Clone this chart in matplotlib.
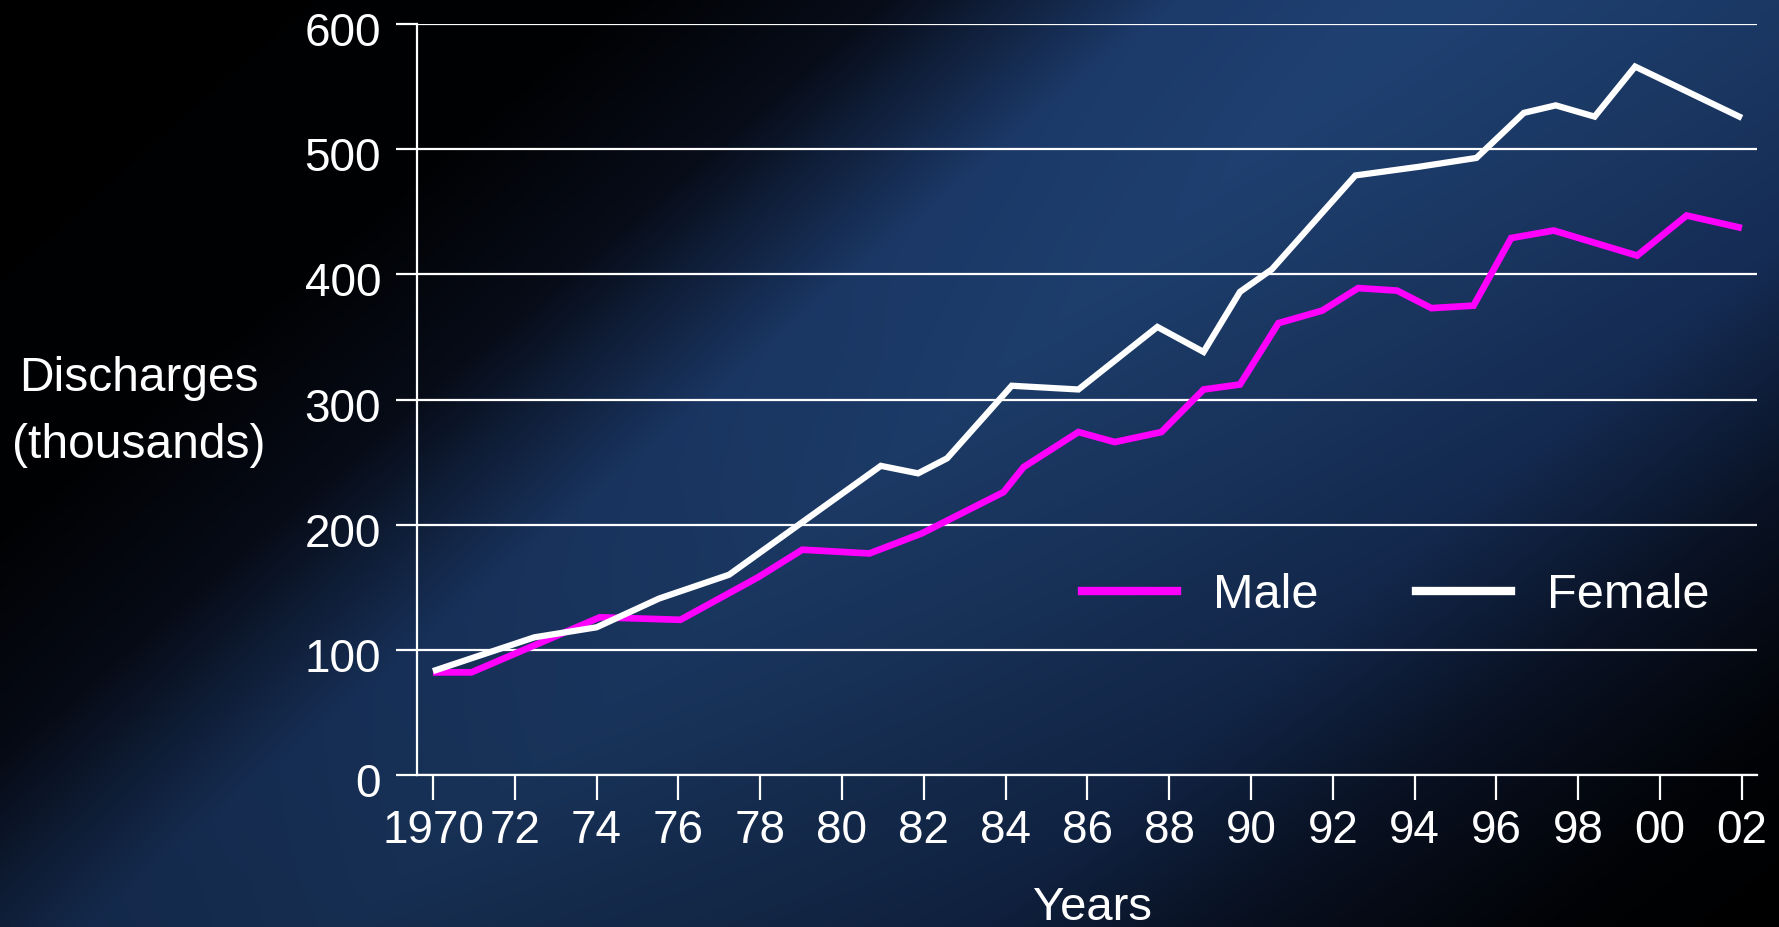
import matplotlib
matplotlib.use("Agg")
import matplotlib.pyplot as plt
import numpy as np
from matplotlib.lines import Line2D
from matplotlib.transforms import ScaledTranslation

plt.rcParams["font.family"] = ["Liberation Sans", "DejaVu Sans"]

# Hospital discharges (thousands)
female_years = [1970.0, 1972.48, 1974.0, 1975.53, 1977.24, 1980.95, 1981.86,
                1982.57, 1984.15, 1985.78, 1987.71, 1988.84, 1989.73, 1990.51,
                1992.55, 1994.12, 1995.51, 1996.67, 1997.45, 1998.4, 1999.39,
                2002.0]
female = [83, 110, 118, 141, 160, 247, 241, 253, 311, 308, 358, 338, 386, 404,
          479, 486, 493, 529, 535, 526, 566, 525]

male_years = [1970.0, 1970.94, 1974.08, 1976.05, 1977.95, 1979.03, 1980.67,
              1981.95, 1983.95, 1984.44, 1985.78, 1986.67, 1987.81, 1988.84,
              1989.73, 1990.67, 1991.74, 1992.62, 1993.57, 1994.41, 1995.44,
              1996.36, 1997.4, 1999.44, 2000.65, 2002.0]
male = [82, 82, 126, 124, 158, 180, 177, 193, 226, 246, 274, 266, 274, 308,
        312, 361, 371, 389, 387, 373, 375, 429, 435, 415, 447, 437]

tick_years = list(range(1970, 2003, 2))
tick_labels = ["1970", "72", "74", "76", "78", "80", "82", "84", "86", "88",
               "90", "92", "94", "96", "98", "00", "02"]
y_ticks = [0, 100, 200, 300, 400, 500, 600]

MAGENTA = "#ff00ff"
WHITE = "#ffffff"
FS = 33

W, H = 1779, 927
fig = plt.figure(figsize=(W / 100, H / 100), dpi=100)

# --- slide background: diagonal black -> navy -> black, darker toward the bottom ---
bg = fig.add_axes([0, 0, 1, 1], zorder=-10)
gx, gy = np.meshgrid(np.linspace(0, 1, 600), np.linspace(0, 1, 300))
s = 0.62 * gx + 0.38 * gy
stops = [0.0, 0.22, 0.31, 0.41, 0.50, 0.62, 0.72, 0.82, 0.92, 1.0]
cols = np.array([
    (0, 0, 0), (1, 2, 4), (8, 13, 26), (28, 58, 106), (31, 65, 114),
    (27, 56, 100), (22, 46, 88), (11, 21, 42), (2, 4, 8), (0, 0, 0),
]) / 255.0
shade = 1.0 - 0.3 * gy ** 1.5
img = np.dstack([np.interp(s, stops, cols[:, c]) * shade for c in range(3)])
bg.imshow(img, aspect="auto", interpolation="bilinear", extent=(0, 1, 1, 0))
bg.set_xlim(0, 1)
bg.set_ylim(1, 0)
bg.axis("off")

# --- main axes ---
left, right = 417 / W, 1757 / W
bottom, top = (H - 775) / H, (H - 24) / H
ax = fig.add_axes([left, bottom, right - left, top - bottom])
ax.patch.set_alpha(0)

ax.plot(male_years, male, color=MAGENTA, lw=4.8,
        solid_joinstyle="miter", solid_capstyle="butt", zorder=3)
ax.plot(female_years, female, color=WHITE, lw=4.5,
        solid_joinstyle="miter", solid_capstyle="butt", zorder=4)

ax.set_xlim(1969.61, 2002.37)
ax.set_ylim(0, 600)

ax.set_xticks(tick_years)
ax.set_xticklabels(tick_labels)
ax.set_yticks(y_ticks)

for side in ("top", "right"):
    ax.spines[side].set_visible(False)
for side in ("left", "bottom"):
    ax.spines[side].set_color(WHITE)
    ax.spines[side].set_linewidth(1.6)

ax.grid(axis="y", color=WHITE, lw=1.6)
ax.set_axisbelow(True)

ax.tick_params(axis="y", direction="out", length=15, width=1.6, colors=WHITE,
               labelsize=FS, pad=10.8)
ax.tick_params(axis="x", direction="out", length=18, width=1.6, colors=WHITE,
               labelsize=FS, pad=6.5)

# y labels sit a few pixels under their gridlines
shift = ScaledTranslation(0, -0.05, fig.dpi_scale_trans)
for lab in ax.get_yticklabels():
    lab.set_transform(lab.get_transform() + shift)

ax.set_xlabel("Years", color=WHITE, fontsize=34, va="center")
ax.xaxis.set_label_coords((1092 - 417) / 1340, (775 - 908) / 751)

fig.text(139 / W, 1 - 412 / H, "Discharges\n(thousands)", color=WHITE,
         fontsize=34.5, ha="center", va="center", linespacing=1.65)

handles = [
    Line2D([], [], color=MAGENTA, lw=6),
    Line2D([], [], color=WHITE, lw=6),
]
leg = ax.legend(handles, ["Male", "Female"], ncol=2, frameon=False,
                fontsize=35, labelcolor=WHITE, loc="center left",
                bbox_to_anchor=(1082 / W, 1 - 596 / H),
                bbox_transform=fig.transFigure,
                borderpad=0, borderaxespad=0, handlelength=1.95,
                handletextpad=0.75, columnspacing=2.0)

fig.savefig("out.png", dpi=100)
